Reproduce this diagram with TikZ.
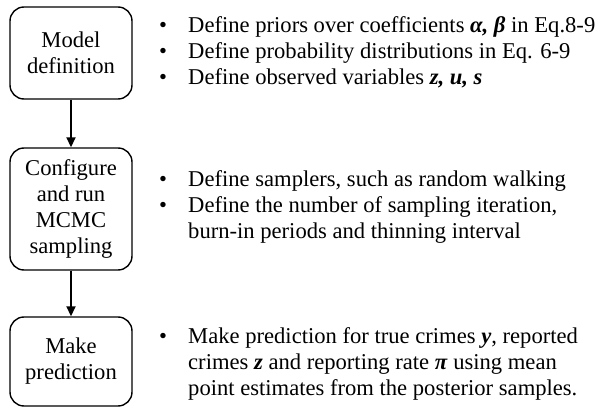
\documentclass[tikz,border=0pt]{standalone}
\usepackage{fontspec}
\setmainfont{Liberation Serif}
\usetikzlibrary{arrows.meta}
% bold italic symbols for model quantities
\newcommand\bsym[1]{\textbf{\textit{#1}}}
\newcommand\notelist[1]{\begin{tabular}{@{}p{29pt}@{}l@{}}#1\end{tabular}}

\begin{document}
\begin{tikzpicture}[x=1pt,y=1pt,
  stage/.style={draw, line width=1.4pt, rounded corners=14pt,
    minimum width=122pt, align=center, inner sep=0pt,
    font=\fontsize{22.6}{26}\selectfont},
  flow/.style={line width=1.8pt, -{Triangle[width=9pt,length=10pt]}},
  notes/.style={anchor=west, inner sep=0pt,
    font=\fontsize{22.6}{26}\selectfont}]
\useasboundingbox (0,0) rectangle (600,-409);

% workflow stages
\node[stage, minimum height=92pt]  (model)  at (71,-53)    {Model\\definition};
\node[stage, minimum height=122pt] (mcmc)   at (71,-209)   {Configure\\and run\\MCMC\\sampling};
\node[stage, minimum height=89pt]  (pred)   at (71,-361.5) {Make\\prediction};

\draw[flow] (model) -- (mcmc);
\draw[flow] (mcmc) -- (pred);

% notes for each stage
\node[notes] (n1) at (159,-53) {\notelist{%
  \textbullet & Define priors over coefficients \bsym{α, β} in Eq.8-9\\
  \textbullet & Define probability distributions in Eq. 6-9\\
  \textbullet & Define observed variables \bsym{z, u, s}}};
\node[notes] (n2) at (159,-207) {\notelist{%
  \textbullet & Define samplers, such as random walking\\
  \textbullet & Define the number of sampling iteration,\\
              & burn-in periods and thinning interval}};
\node[notes] (n3) at (159,-364) {\notelist{%
  \textbullet & Make prediction for true crimes \bsym{y}, reported\\
              & crimes \bsym{z} and reporting rate \bsym{π} using mean\\
              & point estimates from the posterior samples.}};
\end{tikzpicture}
\end{document}
